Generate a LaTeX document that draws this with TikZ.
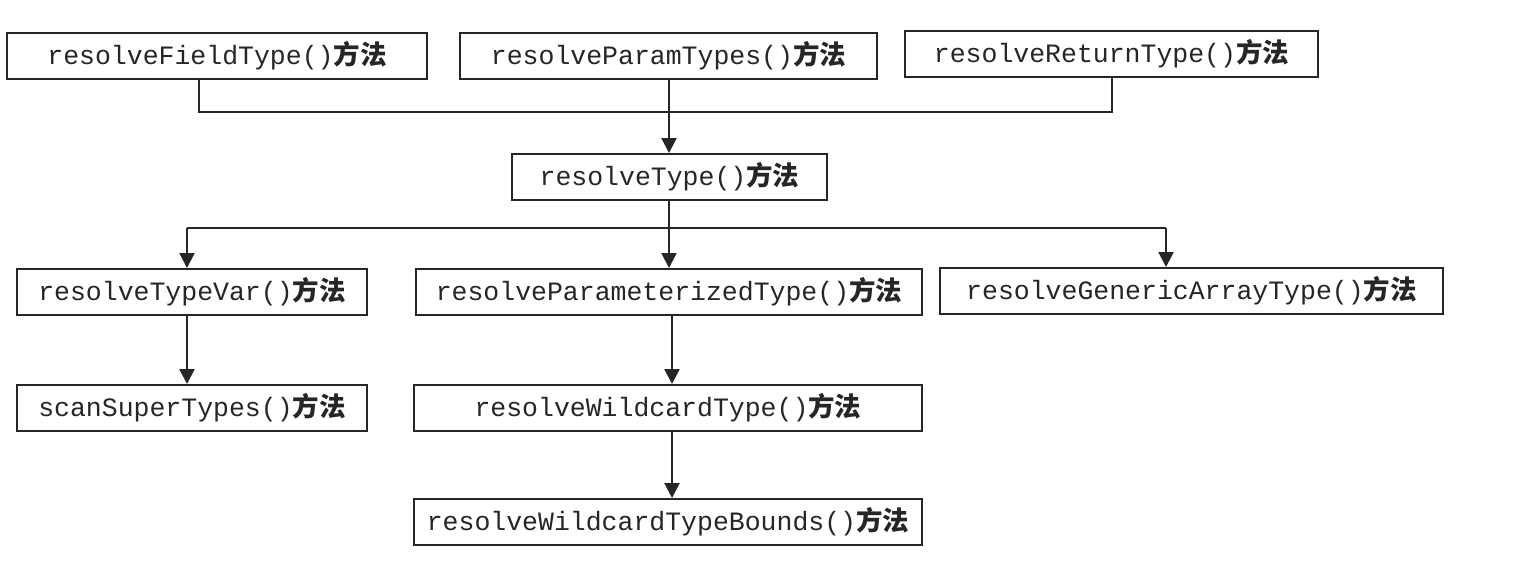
\documentclass[tikz,border=0pt]{standalone}
\usepackage{fontspec}
\setmonofont{Liberation Mono}
\newfontfamily\cjk{Noto Sans CJK SC}
\usetikzlibrary{arrows.meta}
\definecolor{ink}{HTML}{262626}
\newcommand{\mlabel}[1]{{\ttfamily #1}{\cjk\bfseries 方法}}
\begin{document}
\begin{tikzpicture}[x=0.5pt,y=-0.5pt,
  box/.style={draw=ink,line width=1pt,minimum height=23pt,inner sep=0pt,
    text=ink,font=\fontsize{13.25}{15}\selectfont},
  conn/.style={draw=ink,line width=1.1pt},
  arr/.style={conn,-{Triangle[length=7.5pt,width=7.5pt]}}]
\useasboundingbox[fill=white] (0,0) rectangle (1518,570);
% row 1
\node[box,minimum width=210pt] (A) at (217,56) {\mlabel{resolveFieldType()}};
\node[box,minimum width=208.5pt] (B) at (668.5,56) {\mlabel{resolveParamTypes()}};
\node[box,minimum width=206.5pt] (C) at (1111.5,54) {\mlabel{resolveReturnType()}};
% row 2
\node[box,minimum width=157.5pt] (D) at (669.5,177) {\mlabel{resolveType()}};
% row 3
\node[box,minimum width=175pt] (E) at (192,292) {\mlabel{resolveTypeVar()}};
\node[box,minimum width=253pt] (F) at (669,292) {\mlabel{resolveParameterizedType()}};
\node[box,minimum width=251.5pt] (G) at (1191.5,291) {\mlabel{resolveGenericArrayType()}};
% row 4
\node[box,minimum width=175pt] (H) at (192,408) {\mlabel{scanSuperTypes()}};
\node[box,minimum width=254pt] (I) at (668,408) {\mlabel{resolveWildcardType()}};
% row 5
\node[box,minimum width=254pt] (J) at (668,522) {\mlabel{resolveWildcardTypeBounds()}};
% junctions
\coordinate (a1) at (199,112);
\coordinate (c1) at (1112,112);
\coordinate (bm) at (669,112);
\coordinate (hl) at (187,228);
\coordinate (hm) at (669,228);
\coordinate (hr) at (1166,228);
\coordinate (lm) at (672,430);
% connectors
\draw[conn] (A.south -| a1) -- (a1) -- (c1) -- (C.south -| c1);
\draw[arr] (B.south -| bm) -- (bm |- D.north);
\draw[conn] (D.south -| hm) -- (hm);
\draw[conn] (hl) -- (hr);
\draw[arr] (hl) -- (hl |- E.north);
\draw[arr] (hm) -- (hm |- F.north);
\draw[arr] (hr) -- (hr |- G.north);
\draw[arr] (E.south -| hl) -- (hl |- H.north);
\draw[arr] (F.south -| lm) -- (lm |- I.north);
\draw[arr] (I.south -| lm) -- (lm |- J.north);
\end{tikzpicture}
\end{document}
